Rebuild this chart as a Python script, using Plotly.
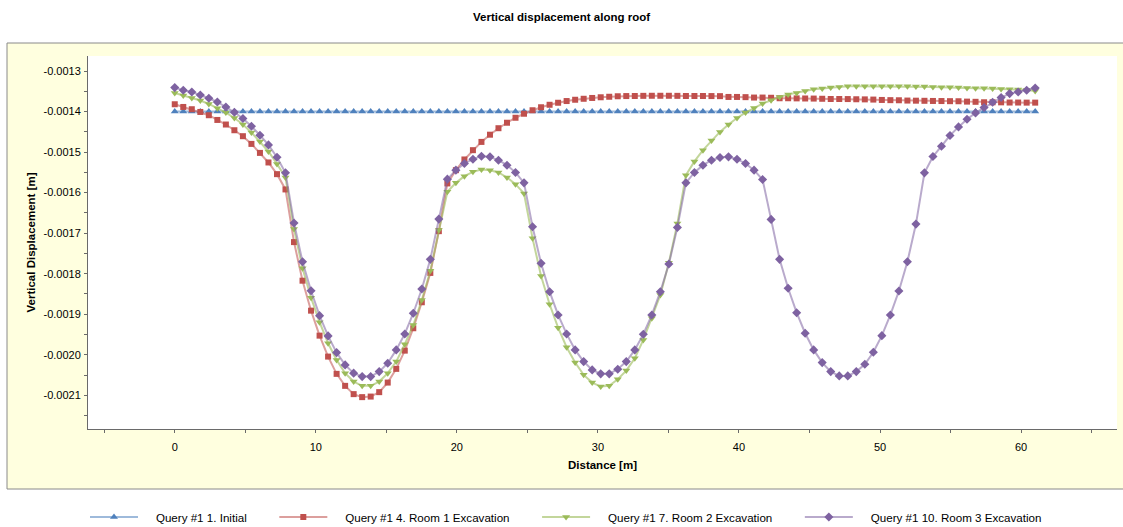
import plotly.graph_objects as go

# Distance along roof [m] (query points)
distance = [
    0.000, 0.604, 1.208, 1.812, 2.416, 3.020, 3.624, 4.228, 4.832, 5.436,
    6.040, 6.644, 7.248, 7.851, 8.455, 9.059, 9.663, 10.267, 10.871, 11.475,
    12.079, 12.683, 13.287, 13.891, 14.495, 15.099, 15.703, 16.307, 16.911, 17.515,
    18.119, 18.723, 19.327, 19.931, 20.535, 21.139, 21.743, 22.347, 22.950, 23.554,
    24.158, 24.762, 25.366, 25.970, 26.574, 27.178, 27.782, 28.386, 28.990, 29.594,
    30.198, 30.802, 31.406, 32.010, 32.614, 33.218, 33.822, 34.426, 35.030, 35.634,
    36.238, 36.842, 37.446, 38.050, 38.653, 39.257, 39.861, 40.465, 41.069, 41.673,
    42.277, 42.881, 43.485, 44.089, 44.693, 45.297, 45.901, 46.505, 47.109, 47.713,
    48.317, 48.921, 49.525, 50.129, 50.733, 51.337, 51.941, 52.545, 53.149, 53.752,
    54.356, 54.960, 55.564, 56.168, 56.772, 57.376, 57.980, 58.584, 59.188, 59.792,
    60.396, 61.000,
]

# Vertical displacement [m]
initial = [
    -14.0e-4, -14.0e-4, -14.0e-4, -14.0e-4, -14.0e-4, -14.0e-4, -14.0e-4, -14.0e-4, -14.0e-4, -14.0e-4,
    -14.0e-4, -14.0e-4, -14.0e-4, -14.0e-4, -14.0e-4, -14.0e-4, -14.0e-4, -14.0e-4, -14.0e-4, -14.0e-4,
    -14.0e-4, -14.0e-4, -14.0e-4, -14.0e-4, -14.0e-4, -14.0e-4, -14.0e-4, -14.0e-4, -14.0e-4, -14.0e-4,
    -14.0e-4, -14.0e-4, -14.0e-4, -14.0e-4, -14.0e-4, -14.0e-4, -14.0e-4, -14.0e-4, -14.0e-4, -14.0e-4,
    -14.0e-4, -14.0e-4, -14.0e-4, -14.0e-4, -14.0e-4, -14.0e-4, -14.0e-4, -14.0e-4, -14.0e-4, -14.0e-4,
    -14.0e-4, -14.0e-4, -14.0e-4, -14.0e-4, -14.0e-4, -14.0e-4, -14.0e-4, -14.0e-4, -14.0e-4, -14.0e-4,
    -14.0e-4, -14.0e-4, -14.0e-4, -14.0e-4, -14.0e-4, -14.0e-4, -14.0e-4, -14.0e-4, -14.0e-4, -14.0e-4,
    -14.0e-4, -14.0e-4, -14.0e-4, -14.0e-4, -14.0e-4, -14.0e-4, -14.0e-4, -14.0e-4, -14.0e-4, -14.0e-4,
    -14.0e-4, -14.0e-4, -14.0e-4, -14.0e-4, -14.0e-4, -14.0e-4, -14.0e-4, -14.0e-4, -14.0e-4, -14.0e-4,
    -14.0e-4, -14.0e-4, -14.0e-4, -14.0e-4, -14.0e-4, -14.0e-4, -14.0e-4, -14.0e-4, -14.0e-4, -14.0e-4,
    -14.0e-4, -14.0e-4,
]

room1 = [
    -13.820e-4, -13.887e-4, -13.943e-4, -14.010e-4, -14.091e-4, -14.207e-4, -14.320e-4, -14.461e-4, -14.608e-4, -14.798e-4,
    -15.020e-4, -15.256e-4, -15.544e-4, -15.921e-4, -17.220e-4, -18.172e-4, -18.911e-4, -19.527e-4, -20.044e-4, -20.470e-4,
    -20.766e-4, -20.970e-4, -21.044e-4, -21.030e-4, -20.921e-4, -20.685e-4, -20.347e-4, -19.897e-4, -19.345e-4, -18.704e-4,
    -17.980e-4, -16.950e-4, -15.773e-4, -15.446e-4, -15.182e-4, -14.953e-4, -14.749e-4, -14.571e-4, -14.411e-4, -14.276e-4,
    -14.153e-4, -14.054e-4, -13.968e-4, -13.894e-4, -13.833e-4, -13.783e-4, -13.741e-4, -13.709e-4, -13.685e-4, -13.665e-4,
    -13.648e-4, -13.635e-4, -13.623e-4, -13.618e-4, -13.616e-4, -13.613e-4, -13.611e-4, -13.611e-4, -13.611e-4, -13.613e-4,
    -13.616e-4, -13.616e-4, -13.616e-4, -13.618e-4, -13.620e-4, -13.640e-4, -13.640e-4, -13.645e-4, -13.655e-4, -13.655e-4,
    -13.660e-4, -13.672e-4, -13.672e-4, -13.675e-4, -13.678e-4, -13.680e-4, -13.685e-4, -13.690e-4, -13.690e-4, -13.692e-4,
    -13.697e-4, -13.700e-4, -13.705e-4, -13.714e-4, -13.719e-4, -13.722e-4, -13.729e-4, -13.732e-4, -13.735e-4, -13.739e-4,
    -13.741e-4, -13.744e-4, -13.746e-4, -13.755e-4, -13.760e-4, -13.771e-4, -13.771e-4, -13.773e-4, -13.778e-4, -13.778e-4,
    -13.780e-4, -13.780e-4,
]

room2 = [
    -13.542e-4, -13.606e-4, -13.665e-4, -13.729e-4, -13.813e-4, -13.919e-4, -14.025e-4, -14.158e-4, -14.320e-4, -14.517e-4,
    -14.739e-4, -14.985e-4, -15.291e-4, -15.626e-4, -16.900e-4, -17.867e-4, -18.591e-4, -19.197e-4, -19.714e-4, -20.126e-4,
    -20.453e-4, -20.660e-4, -20.766e-4, -20.766e-4, -20.660e-4, -20.453e-4, -20.167e-4, -19.739e-4, -19.264e-4, -18.648e-4,
    -17.926e-4, -16.924e-4, -15.980e-4, -15.759e-4, -15.594e-4, -15.488e-4, -15.429e-4, -15.446e-4, -15.502e-4, -15.626e-4,
    -15.791e-4, -16.020e-4, -17.128e-4, -18.057e-4, -18.754e-4, -19.330e-4, -19.813e-4, -20.192e-4, -20.495e-4, -20.685e-4,
    -20.783e-4, -20.766e-4, -20.601e-4, -20.389e-4, -20.084e-4, -19.633e-4, -19.099e-4, -18.525e-4, -17.729e-4, -16.759e-4,
    -15.569e-4, -15.230e-4, -14.953e-4, -14.715e-4, -14.502e-4, -14.320e-4, -14.158e-4, -14.025e-4, -13.911e-4, -13.803e-4,
    -13.722e-4, -13.640e-4, -13.581e-4, -13.542e-4, -13.493e-4, -13.451e-4, -13.433e-4, -13.409e-4, -13.394e-4, -13.377e-4,
    -13.377e-4, -13.377e-4, -13.377e-4, -13.377e-4, -13.377e-4, -13.377e-4, -13.377e-4, -13.384e-4, -13.384e-4, -13.394e-4,
    -13.401e-4, -13.401e-4, -13.409e-4, -13.419e-4, -13.426e-4, -13.426e-4, -13.433e-4, -13.443e-4, -13.451e-4, -13.458e-4,
    -13.468e-4, -13.493e-4,
]

room3 = [
    -13.410e-4, -13.475e-4, -13.517e-4, -13.591e-4, -13.672e-4, -13.764e-4, -13.887e-4, -14.017e-4, -14.172e-4, -14.362e-4,
    -14.584e-4, -14.823e-4, -15.126e-4, -15.512e-4, -16.750e-4, -17.704e-4, -18.419e-4, -19.034e-4, -19.534e-4, -19.946e-4,
    -20.249e-4, -20.453e-4, -20.537e-4, -20.537e-4, -20.414e-4, -20.207e-4, -19.879e-4, -19.485e-4, -18.975e-4, -18.377e-4,
    -17.645e-4, -16.653e-4, -15.667e-4, -15.446e-4, -15.281e-4, -15.175e-4, -15.101e-4, -15.118e-4, -15.200e-4, -15.323e-4,
    -15.502e-4, -15.759e-4, -16.842e-4, -17.744e-4, -18.443e-4, -19.017e-4, -19.485e-4, -19.879e-4, -20.167e-4, -20.372e-4,
    -20.470e-4, -20.470e-4, -20.355e-4, -20.167e-4, -19.879e-4, -19.493e-4, -19.017e-4, -18.443e-4, -17.761e-4, -16.857e-4,
    -15.759e-4, -15.502e-4, -15.323e-4, -15.200e-4, -15.133e-4, -15.118e-4, -15.175e-4, -15.281e-4, -15.446e-4, -15.675e-4,
    -16.660e-4, -17.645e-4, -18.360e-4, -18.961e-4, -19.468e-4, -19.879e-4, -20.192e-4, -20.414e-4, -20.520e-4, -20.520e-4,
    -20.414e-4, -20.232e-4, -19.936e-4, -19.527e-4, -19.017e-4, -18.426e-4, -17.704e-4, -16.776e-4, -15.512e-4, -15.110e-4,
    -14.855e-4, -14.591e-4, -14.379e-4, -14.190e-4, -14.034e-4, -13.901e-4, -13.771e-4, -13.655e-4, -13.557e-4, -13.517e-4,
    -13.475e-4, -13.419e-4,
]

series_names = [
    "Query #1 1. Initial",
    "Query #1 4. Room 1 Excavation",
    "Query #1 7. Room 2 Excavation",
    "Query #1 10. Room 3 Excavation",
]

ytick_vals = [-0.0013, -0.0014, -0.0015, -0.0016, -0.0017, -0.0018, -0.0019, -0.0020, -0.0021]
ytick_text = ["-0.0013", "-0.0014", "-0.0015", "-0.0016", "-0.0017", "-0.0018", "-0.0019", "-0.0020", "-0.0021"]

FONT = "Liberation Sans, Arial, sans-serif"
LEGEND_FONT = "Liberation Sans, Arial, sans-serif"
AX = "#6a6a6a"
NB = "\u00a0"

styles = [
    dict(marker="#4F81BD", line="rgba(79,129,189,0.55)", symbol="triangle-up", size=7),
    dict(marker="#C0504D", line="rgba(192,80,77,0.55)", symbol="square", size=6),
    dict(marker="#9BBB59", line="rgba(155,187,89,0.6)", symbol="triangle-down", size=7),
    dict(marker="#7E62A1", line="rgba(128,100,162,0.55)", symbol="diamond", size=7),
]

fig = go.Figure()
for name, vals, st in zip(series_names, [initial, room1, room2, room3], styles):
    fig.add_trace(go.Scatter(
        x=distance, y=vals, mode="lines+markers",
        name=NB * 4 + name + NB * 7,
        line=dict(color=st["line"], width=2),
        marker=dict(symbol=st["symbol"], color=st["marker"], size=st["size"], line=dict(width=0)),
    ))

# plot area in pixels: x 88..1117, y 56..429
W, H = 1123, 527
L, R, T, B = 88, 1117, 56, 429
pw, ph = R - L, B - T

def px_x(p):
    return (p - L) / pw

def px_y(p):
    return 1 - (p - T) / ph

fig.update_layout(
    width=W, height=H,
    margin=dict(l=L, r=W - R, t=T, b=H - B, autoexpand=False),
    paper_bgcolor="white", plot_bgcolor="white",
    font=dict(family=FONT, size=11, color="black"),
    title=dict(text="<b>Vertical displacement along roof</b>", x=0.5, xanchor="center",
               y=1 - 17 / H, yanchor="middle", font=dict(family=FONT, size=11.5, color="black")),
    shapes=[
        dict(type="rect", xref="paper", yref="paper", layer="below",
             x0=px_x(7), x1=px_x(1135), y0=px_y(489), y1=px_y(43),
             fillcolor="#FFFFDF", line=dict(color="#8a8a8a", width=1)),
        dict(type="rect", xref="paper", yref="paper", layer="below",
             x0=0, x1=1, y0=0, y1=1, fillcolor="white", line=dict(width=0)),
    ],
    xaxis=dict(
        range=[-6.15, 66.8], tickmode="linear", tick0=0, dtick=10,
        ticks="outside", ticklen=3, tickcolor=AX, tickwidth=1,
        showline=True, linecolor=AX, linewidth=1, showgrid=False, zeroline=False,
        ticklabelstandoff=5,
        tickfont=dict(family=FONT, size=11, color="black"),
        minor=dict(tickmode="linear", tick0=0, dtick=5, ticks="outside", ticklen=3, tickcolor=AX, showgrid=False),
        title=dict(text="<b>Distance [m]</b>", standoff=8, font=dict(family=FONT, size=11.5, color="black")),
    ),
    yaxis=dict(
        range=[-0.002183, -0.001263], tickmode="array", tickvals=ytick_vals, ticktext=ytick_text,
        ticks="outside", ticklen=3, tickcolor=AX, tickwidth=1,
        showline=True, linecolor=AX, linewidth=1, showgrid=False, zeroline=False,
        ticklabelstandoff=1,
        tickfont=dict(family=FONT, size=11, color="black"),
        minor=dict(tickmode="linear", tick0=-0.0013, dtick=0.00005, ticks="outside", ticklen=3, tickcolor=AX, showgrid=False),
        title=dict(text="<b>Vertical Displacement [m]</b>", standoff=5, font=dict(family=FONT, size=11.5, color="black")),
    ),
    legend=dict(orientation="h", x=px_x(85), xanchor="left", y=px_y(517), yanchor="middle",
                font=dict(family=LEGEND_FONT, size=11.6, color="black"), itemwidth=48,
                bgcolor="rgba(0,0,0,0)", tracegroupgap=0),
    showlegend=True,
)

fig.write_html("out.html")
